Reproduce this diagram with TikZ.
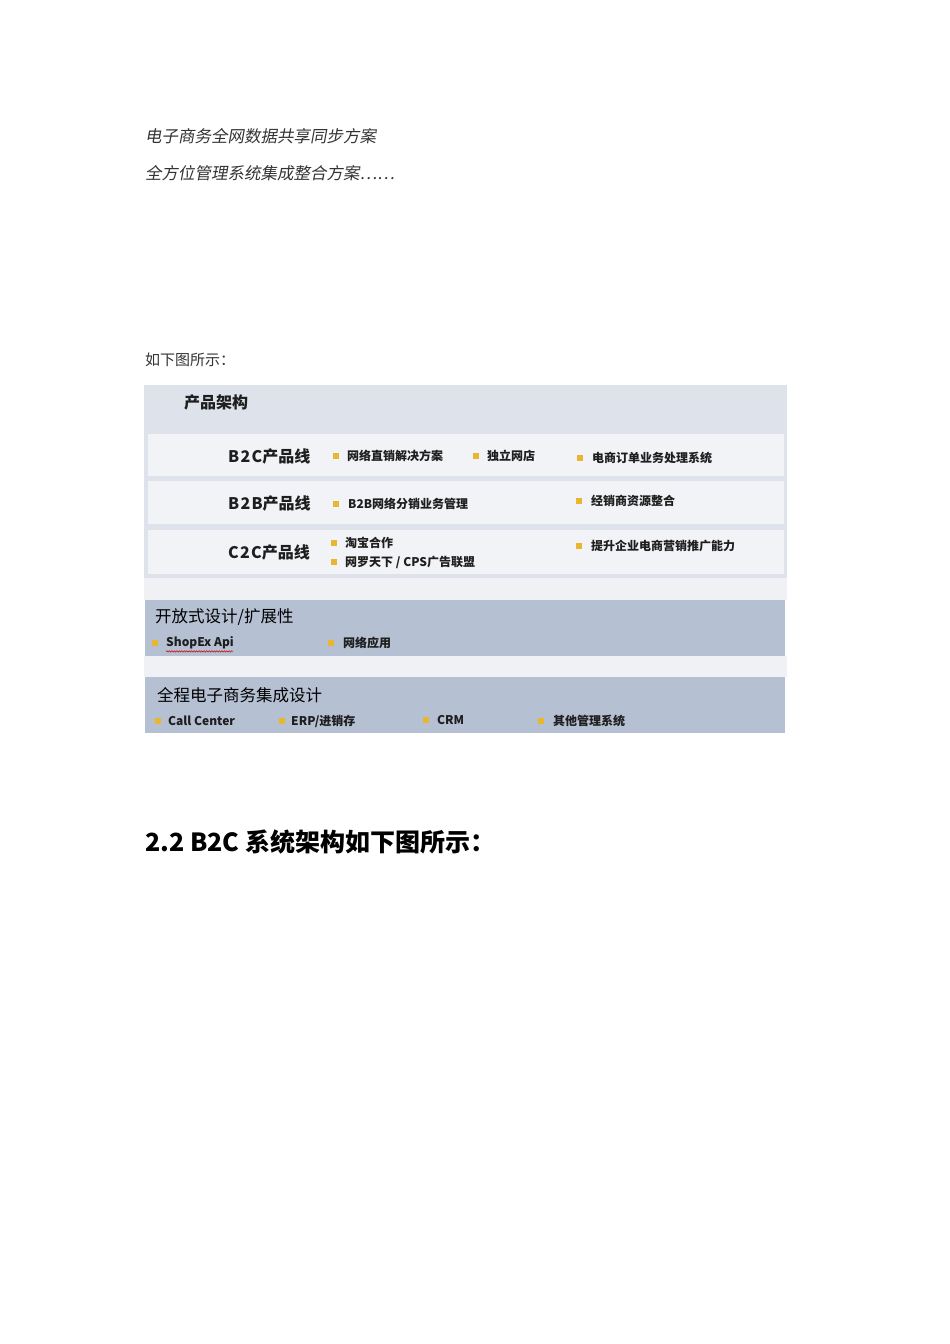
\documentclass[tikz,border=0pt]{standalone}
\usepackage{fontspec}
\setmainfont{Noto Sans CJK SC}
\newfontfamily\slantcjk[FakeSlant=0.18]{Noto Sans CJK SC}
\newfontfamily\widelat[LetterSpace=8]{Noto Sans CJK SC}
\usetikzlibrary{decorations.pathmorphing}
\definecolor{bodytext}{HTML}{333333}
\definecolor{darktext}{HTML}{1E1E1E}
\definecolor{outerbg}{HTML}{DDE2EB}
\definecolor{rowbg}{HTML}{F2F3F7}
\definecolor{bandbg}{HTML}{B5C0D3}
\definecolor{gapbg}{HTML}{EFF1F5}
\definecolor{bulletc}{HTML}{E8B631}
\tikzset{
  txt/.style={anchor=west, inner sep=0pt, text=darktext},
  para/.style={anchor=west, inner sep=0pt, text=bodytext, font=\slantcjk\fontsize{16.5}{18}\selectfont},
  plain/.style={anchor=west, inner sep=0pt, text=bodytext, font=\fontsize{15}{17}\selectfont},
  heading/.style={anchor=west, inner sep=0pt, text=black, font=\bfseries\fontsize{25}{29}\selectfont},
  bigl/.style={txt, font=\bfseries\fontsize{16}{18}\selectfont},
  bandl/.style={txt, text=black, font=\fontsize{16.5}{18}\selectfont},
  item/.style={txt, font=\bfseries\fontsize{12}{14}\selectfont},
  bul/.style={fill=bulletc, draw=none, minimum size=6pt, inner sep=0pt}
}
\begin{document}
\begin{tikzpicture}[x=1pt,y=-1pt]
\useasboundingbox[fill=white] (0,0) rectangle (950,1344);

% body paragraphs
\node[para] (p1) at (145,136) {电子商务全网数据共享同步方案};
\node[para] (p2) at (145,173) {全方位管理系统集成整合方案……};
\node[plain] (p3) at (145,360) {如下图所示：};

% diagram backgrounds
\fill[outerbg] (144,385) rectangle (787,578);
\fill[rowbg] (148,434) rectangle (784,476);
\fill[rowbg] (148,481) rectangle (784,524);
\fill[rowbg] (148,530) rectangle (784,574);
\fill[gapbg] (144,578) rectangle (787,600);
\fill[bandbg] (145,600) rectangle (785,656);
\fill[gapbg] (144,656) rectangle (787,677);
\fill[bandbg] (145,677) rectangle (785,733);

% title
\node[bigl] (title) at (184,402) {产品架构};

% row 1
\node[bigl] (b2c) at (228,456) {{\widelat B2C}产品线};
\node[bul] (bu11) at (336,456) {};
\node[item] (i11) at (347,456) {网络直销解决方案};
\node[bul] (bu12) at (476,456) {};
\node[item] (i12) at (487,456) {独立网店};
\node[bul] (bu13) at (580,458) {};
\node[item] (i13) at (592,458) {电商订单业务处理系统};

% row 2
\node[bigl] (b2b) at (228,503) {{\widelat B2B}产品线};
\node[bul] (bu21) at (336,504) {};
\node[item] (i21) at (348,504) {B2B网络分销业务管理};
\node[bul] (bu22) at (579,501) {};
\node[item] (i22) at (591,501) {经销商资源整合};

% row 3
\node[bigl] (c2c) at (228,552) {{\widelat C2C}产品线};
\node[bul] (bu31) at (334,543) {};
\node[item] (i31) at (345,543) {淘宝合作};
\node[bul] (bu32) at (334,562) {};
\node[item] (i32) at (345,562) {网罗天下 / CPS广告联盟};
\node[bul] (bu33) at (579,546) {};
\node[item] (i33) at (591,546) {提升企业电商营销推广能力};

% band 1
\node[bandl] (open) at (155,617) {开放式设计/扩展性};
\node[bul] (bu41) at (155,643) {};
\node[item] (i41) at (166,643) {ShopEx Api};
\draw[red!80!black, line width=0.5pt, decorate, decoration={snake, amplitude=0.7pt, segment length=2.5pt}] (i41.south west) ++(0,2) -- ++(67,0);
\node[bul] (bu42) at (331,643) {};
\node[item] (i42) at (343,643) {网络应用};

% band 2
\node[bandl] (full) at (157,695) {全程电子商务集成设计};
\node[bul] (bu51) at (158,721) {};
\node[item] (i51) at (168,721) {Call Center};
\node[bul] (bu52) at (282,721) {};
\node[item] (i52) at (291,721) {ERP/进销存};
\node[bul] (bu53) at (426,720) {};
\node[item] (i53) at (437,720) {CRM};
\node[bul] (bu54) at (541,721) {};
\node[item] (i54) at (553,721) {其他管理系统};

% heading
\node[heading] (h) at (145,842) {2.2 B2C 系统架构如下图所示：};
\end{tikzpicture}
\end{document}
